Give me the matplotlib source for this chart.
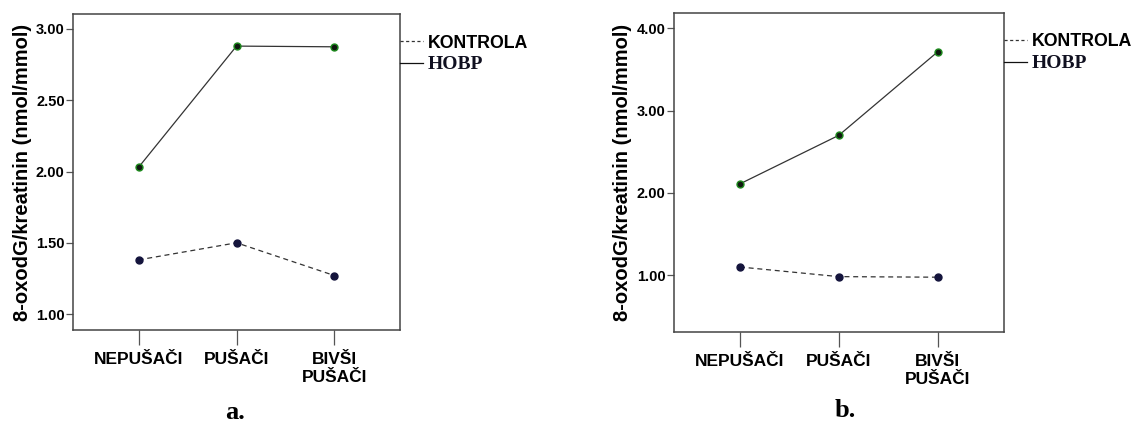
import matplotlib.pyplot as plt
from matplotlib.lines import Line2D

# podaci
grupe = ['NEPUŠAČI', 'PUŠAČI', 'BIVŠI\nPUŠAČI']
kontrola_a = [1.38, 1.50, 1.27]
hobp_a = [2.03, 2.88, 2.875]
kontrola_b = [1.10, 0.983, 0.976]
hobp_b = [2.11, 2.70, 3.715]

yticks_a = [1.0, 1.5, 2.0, 2.5, 3.0]
yticks_b = [1.0, 2.0, 3.0, 4.0]

plt.rcParams['font.family'] = ['Liberation Sans', 'DejaVu Sans']

fig = plt.figure(figsize=(11.32, 4.25), dpi=100)
ax1 = fig.add_axes([0.0645, 0.2235, 0.2889, 0.7435])
ax2 = fig.add_axes([0.5951, 0.2188, 0.2918, 0.7513])

def crtaj(ax, kon, hob, yt, ylim):
    x = list(range(len(grupe)))
    ax.plot(x, kon, color='#333333', lw=0.9, ls=(0, (4, 3)))
    ax.plot(x, hob, color='#333333', lw=0.9)
    ax.plot(x, kon, 'o', ms=5, mfc='#14143c', mec='#14143c', zorder=3)
    ax.plot(x, hob, 'o', ms=5, mfc='#101810', mec='#1e8c1e', mew=1.0, zorder=3)
    ax.set_xlim(-0.67, 2.67)
    ax.set_ylim(*ylim)
    ax.set_xticks(x)
    ax.set_xticklabels(grupe, fontsize=12.5, fontweight='bold', linespacing=1.2)
    ax.set_yticks(yt)
    ax.set_yticklabels(['%.2f' % v for v in yt], fontsize=10.5, fontweight='bold')
    ax.tick_params(axis='x', length=11, width=0.9, color='#555555', pad=5)
    ax.tick_params(axis='y', length=5, width=0.9, color='#555555', pad=1)
    for s in ax.spines.values():
        s.set_color('#444444')
        s.set_linewidth(1.1)
    ax.set_ylabel('8-oxodG/kreatinin (nmol/mmol)', fontsize=14.5, fontweight='bold', labelpad=3)
    h = [Line2D([], [], color='#333333', lw=0.9, ls=(0, (2.5, 2))),
         Line2D([], [], color='#111111', lw=0.9)]
    leg = ax.legend(h, ['KONTROLA', 'HOBP'], loc='upper left', bbox_to_anchor=(1.0, 0.935),
                    frameon=False, borderaxespad=0, borderpad=0, handlelength=1.3,
                    handletextpad=0.25, labelspacing=0.25, prop={'weight': 'bold', 'size': 12.8})
    t = leg.get_texts()[1]
    t.set_fontfamily('Liberation Serif')
    t.set_fontsize(14)
    t.set_color('#101020')

crtaj(ax1, kontrola_a, hobp_a, yticks_a, (0.888, 3.105))
crtaj(ax2, kontrola_b, hobp_b, yticks_b, (0.31, 4.19))

fig.text(0.2076, 0.014, 'a.', fontsize=19, fontweight='bold', family='Liberation Serif', ha='center')
fig.text(0.7465, 0.018, 'b.', fontsize=19, fontweight='bold', family='Liberation Serif', ha='center')

plt.savefig('out.png', dpi=100)
